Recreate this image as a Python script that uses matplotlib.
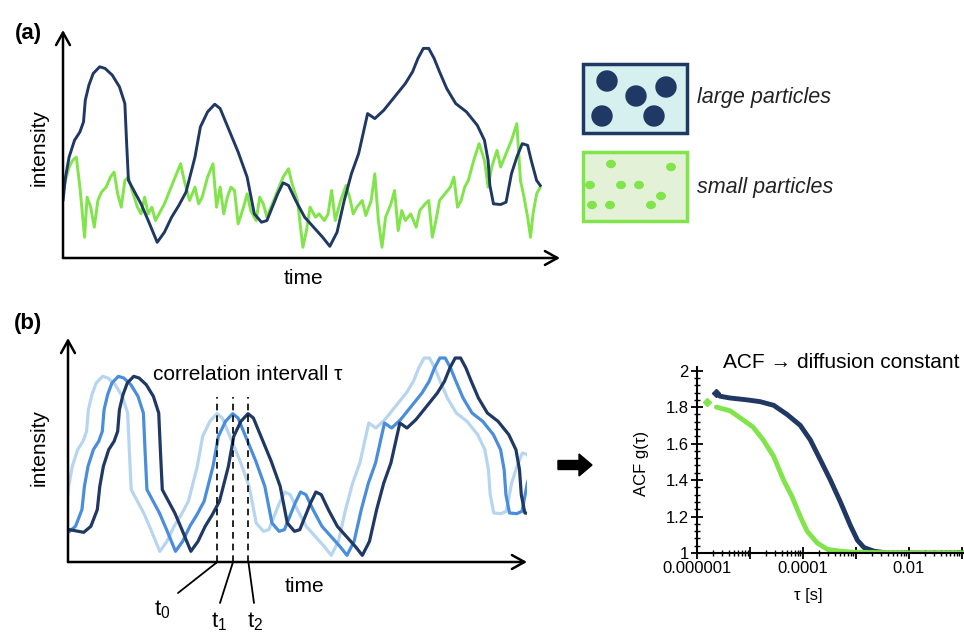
import numpy as np
import matplotlib.pyplot as plt
from matplotlib.patches import Rectangle, Circle, Ellipse, FancyArrow
from matplotlib.ticker import FixedLocator, FixedFormatter, MultipleLocator, LogLocator, NullFormatter

plt.rcParams['font.family'] = ['Liberation Sans', 'DejaVu Sans']

# intensity trace of the large particles (panel b re-uses it, shifted in time)
time_large = np.array([100, 140, 160, 178, 185, 195, 210, 225, 235, 240, 250, 262, 280, 295, 315, 335,
                       350, 355, 360, 375, 395, 415, 440, 460, 480, 500, 520, 545, 560, 580, 600, 615,
                       640, 665, 690, 710, 730, 745, 760, 775, 790, 805, 825, 850, 875, 900, 920, 940,
                       960, 980, 1000, 1025, 1045, 1070, 1100, 1130, 1150, 1165, 1180, 1195, 1210, 1225,
                       1245, 1270, 1300, 1330, 1350, 1360, 1365, 1375, 1395, 1410, 1425, 1440, 1455, 1470,
                       1480, 1490, 1495, 1505])
int_large = np.array([112, 104, 122, 172, 242, 302, 352, 377, 407, 472, 517, 552, 572, 567, 547, 512,
                      462, 342, 232, 202, 162, 112, 47, 77, 122, 157, 197, 302, 392, 437, 460, 447,
                      382, 317, 242, 132, 107, 112, 152, 192, 225, 217, 172, 122, 92, 62, 35, 77,
                      172, 252, 312, 432, 417, 442, 482, 522, 557, 597, 627, 627, 597, 557,
                      507, 462, 437, 397, 352, 292, 217, 162, 160, 167, 252, 302, 342, 337,
                      292, 252, 232, 217])

# intensity trace of the small particles
time_small = np.array([178, 185, 195, 205, 215, 225, 238, 245, 255, 265, 275, 285, 298, 310, 320, 330,
                       340, 350, 360, 370, 385, 395, 405, 415, 425, 435, 445, 460, 475, 490, 505, 515,
                       530, 545, 555, 565, 580, 595, 605, 615, 625, 635, 645, 655, 665, 680, 690, 700,
                       715, 725, 735, 745, 760, 775, 790, 805, 815, 830, 845, 855, 865, 880, 890, 905,
                       915, 925, 935, 950, 965, 975, 985, 995, 1010, 1020, 1035, 1045, 1055, 1065, 1075,
                       1090, 1100, 1110, 1120, 1130, 1145, 1160, 1170, 1185, 1195, 1205, 1215, 1225, 1240,
                       1255, 1265, 1275, 1285, 1295, 1305, 1320, 1335, 1350, 1360, 1370, 1385, 1395, 1410,
                       1425, 1440, 1450, 1460, 1470, 1478, 1485, 1495, 1505])
int_small = np.array([207, 232, 272, 292, 302, 212, 62, 182, 152, 92, 172, 197, 212, 242, 257, 192,
                      152, 232, 242, 202, 152, 132, 182, 132, 152, 112, 132, 162, 202, 242, 282, 232,
                      172, 212, 162, 182, 242, 282, 152, 212, 132, 182, 212, 202, 102, 152, 192, 142,
                      112, 182, 162, 122, 162, 202, 242, 267, 222, 172, 32, 82, 152, 122, 132, 112,
                      132, 202, 112, 172, 217, 182, 132, 152, 172, 127, 172, 252, 112, 32, 122,
                      162, 202, 82, 142, 112, 132, 92, 142, 162, 172, 62, 112, 172, 192,
                      212, 242, 152, 172, 212, 232, 292, 342, 292, 212, 272, 322, 272, 312,
                      352, 402, 232, 182, 122, 62, 132, 192, 212])

# panel b: time lags of the three copies and the marked times
lags = [7, 51, 94]
t_marks = [608, 652, 695]
t_names = [r'$\mathregular{t_0}$', r'$\mathregular{t_1}$', r'$\mathregular{t_2}$']

# autocorrelation functions
tau_large = np.array([2.33e-6, 2.7e-6, 4.2e-6, 8.7e-6, 1.55e-5, 2.8e-5, 5.0e-5, 8.9e-5, 1.38e-4, 2.14e-4,
                      3.3e-4, 5.1e-4, 7.9e-4, 1.07e-3, 1.42e-3, 2.2e-3, 3.9e-3, 1e-2, 3e-2, 1.1e-1])
acf_large = np.array([1.88, 1.86, 1.85, 1.84, 1.83, 1.81, 1.76, 1.70, 1.62, 1.51,
                      1.40, 1.28, 1.15, 1.07, 1.03, 1.01, 1.0, 1.0, 1.0, 1.0])
tau_small = np.array([1.55e-6, 2.33e-6, 4.2e-6, 7.4e-6, 1.15e-5, 1.78e-5, 2.8e-5, 4.3e-5, 6.2e-5, 8.9e-5,
                      1.2e-4, 1.86e-4, 2.9e-4, 5.1e-4, 9.1e-4, 1e-2, 1.1e-1])
acf_small = np.array([1.83, 1.80, 1.78, 1.73, 1.69, 1.62, 1.53, 1.40, 1.31, 1.20,
                      1.12, 1.055, 1.02, 1.01, 1.004, 1.0, 1.0])

acf_yticks = [1, 1.2, 1.4, 1.6, 1.8, 2]
acf_ylabels = ['1', '1.2', '1.4', '1.6', '1.8', '2']
acf_xticks = [1e-6, 1e-5, 1e-4, 1e-3, 1e-2, 1e-1]
acf_xlabels = ['0.000001', '', '0.0001', '', '0.01', '']

navy = '#1f3864'
lime = '#80e44a'
blues = ['#b8d5f0', '#4a8edb', '#1f3864']

W, H = 964, 636
fig = plt.figure(figsize=(W / 100, H / 100), dpi=100)

# full-figure canvas in pixel coordinates for the drawing parts
canvas = fig.add_axes([0, 0, 1, 1])
canvas.set_xlim(0, W)
canvas.set_ylim(H, 0)
canvas.axis('off')


def arrow_axes(ax):
    ax.axis('off')
    for end in [(1, 0), (0, 1)]:
        ax.annotate('', xy=end, xytext=(0, 0), xycoords='axes fraction',
                    arrowprops=dict(arrowstyle='->,head_length=0.45,head_width=0.25', lw=1.8,
                                    color='black', shrinkA=0, shrinkB=0, mutation_scale=20),
                    annotation_clip=False)


# (a) fluctuating intensities
ax_a = fig.add_axes([63 / W, (H - 258) / H, 497 / W, 228 / H])
ax_a.plot(time_small, int_small, color=lime, lw=2.1, solid_joinstyle='round')
ax_a.plot(time_large, int_large, color=navy, lw=2.1, solid_joinstyle='round')
ax_a.set_xlim(178, 1560)
ax_a.set_ylim(0, 682)
arrow_axes(ax_a)

# (b) shifted copies
ax_b = fig.add_axes([68 / W, (H - 562) / H, 459 / W, 224 / H])
for lag, c in zip(lags, blues):
    ax_b.plot(time_large + lag, int_large, color=c, lw=2.3, solid_joinstyle='round')
ax_b.set_xlim(190, 1475)
ax_b.set_ylim(15, 687)
ax_b.vlines(t_marks, 15, 510, colors='black', linestyles=(0, (4, 3)), lw=1.2)
arrow_axes(ax_b)
label_pos = [(178, 593, 162, 610), (220, 603, 219, 622), (254, 603, 255, 622)]
for t, name, (lx, ly, tx, ty) in zip(t_marks, t_names, label_pos):
    ax_b.annotate('', xy=(t, 15), xytext=(lx, ly), textcoords=canvas.transData,
                  arrowprops=dict(arrowstyle='-', lw=1.3, color='black', shrinkA=0, shrinkB=0),
                  annotation_clip=False)
    canvas.text(tx, ty, name, fontsize=16, ha='center', va='center')

# texts
canvas.text(28, 33, '(a)', fontsize=16, fontweight='bold', ha='center', va='center')
canvas.text(28, 323, '(b)', fontsize=16, fontweight='bold', ha='center', va='center')
canvas.text(303, 278, 'time', fontsize=15, ha='center', va='center')
canvas.text(39, 147, 'intensity', fontsize=15, ha='center', va='center', rotation=90)
canvas.text(304, 587, 'time', fontsize=15, ha='center', va='center')
canvas.text(39, 447, 'intensity', fontsize=15, ha='center', va='center', rotation=90)
canvas.text(248, 375, 'correlation intervall τ', fontsize=15, ha='center', va='center')

# particle boxes
large_xy = [(607, 81), (666, 87), (636, 96), (602, 116), (654, 116)]
small_xy = [(611, 164), (671, 167), (590, 185), (621, 185), (639, 185), (661, 196),
            (592, 205), (610, 205), (651, 205)]
canvas.add_patch(Rectangle((583, 64), 104, 69, facecolor='#d6f0ef', edgecolor=navy, lw=2.5))
for x, y in large_xy:
    canvas.add_patch(Circle((x, y), 10, color=navy))
canvas.add_patch(Rectangle((583, 152), 104, 69, facecolor='#e3f2d6', edgecolor=lime, lw=2.5))
for x, y in small_xy:
    canvas.add_patch(Ellipse((x, y), 8.5, 7, color=lime))
canvas.text(697, 97, 'large particles', fontsize=15.5, style='italic', va='center', color='#222222')
canvas.text(697, 188, 'small particles', fontsize=15.5, style='italic', va='center', color='#222222')

# big arrow to the ACF
canvas.add_patch(FancyArrow(558, 465, 34, 0, width=9, head_width=22, head_length=13,
                            length_includes_head=True, color='black'))

# ACF inset
ax_c = fig.add_axes([697 / W, (H - 553) / H, 267 / W, 186 / H])
ax_c.set_xscale('log')
ax_c.plot(tau_large[1:], acf_large[1:], color=navy, lw=3.5, solid_capstyle='round')
ax_c.plot(tau_large[:1], acf_large[:1], color=navy, marker='D', ms=4, ls='none')
ax_c.plot(tau_small[1:], acf_small[1:], color=lime, lw=3.5, solid_capstyle='round')
ax_c.plot(tau_small[:1], acf_small[:1], color=lime, marker='D', ms=4, ls='none')
ax_c.set_xlim(1e-6, 0.11)
ax_c.set_ylim(1, 2.02)
for s in ['top', 'right']:
    ax_c.spines[s].set_visible(False)
for s in ['left', 'bottom']:
    ax_c.spines[s].set_linewidth(1.5)
ax_c.yaxis.set_major_locator(FixedLocator(acf_yticks))
ax_c.yaxis.set_major_formatter(FixedFormatter(acf_ylabels))
ax_c.yaxis.set_minor_locator(MultipleLocator(0.04))
ax_c.xaxis.set_major_locator(FixedLocator(acf_xticks))
ax_c.xaxis.set_major_formatter(FixedFormatter(acf_xlabels))
ax_c.xaxis.set_minor_locator(LogLocator(base=10, subs=range(2, 10)))
ax_c.xaxis.set_minor_formatter(NullFormatter())
ax_c.tick_params(which='major', direction='inout', length=8, width=1.3, labelsize=12, pad=2)
ax_c.tick_params(which='minor', direction='inout', length=4, width=1)
ax_c.patch.set_visible(False)
ax_c.set_ylabel('ACF g(τ)', fontsize=12)
ax_c.yaxis.set_label_coords(-0.18, 0.48)
ax_c.set_xlabel('τ [s]', fontsize=12)
ax_c.xaxis.set_label_coords(0.416, -0.19)
canvas.text(723, 363, 'ACF → diffusion constant', fontsize=15, va='center')

fig.savefig('out.png', dpi=100, facecolor='white')
